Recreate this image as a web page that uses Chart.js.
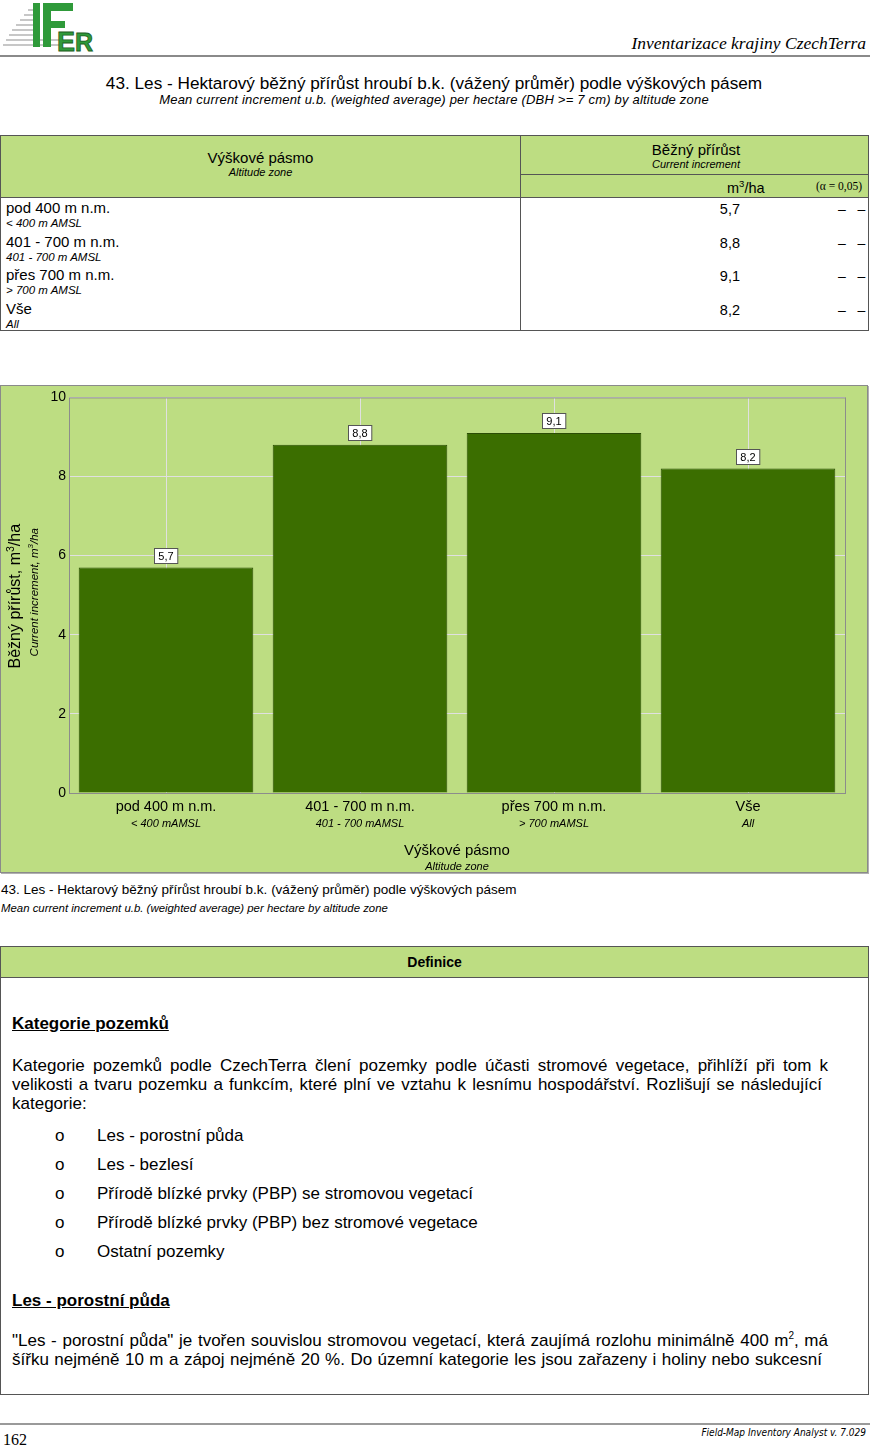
<!DOCTYPE html>
<html lang="cs">
<head>
<meta charset="utf-8">
<title>43. Les - Hektarový běžný přírůst</title>
<script src="https://cdn.jsdelivr.net/npm/chart.js@4/dist/chart.umd.min.js"></script>
<style>
  body { margin: 0; width: 870px; height: 1446px; position: relative; background: #fff;
         font-family: "Liberation Sans", Arial, sans-serif; color: #000; overflow: hidden; }
  .abs { position: absolute; white-space: nowrap; }
  .green { background: #bddd82; }
  .it { font-style: italic; }
  .c { text-align: center; }
  .r { text-align: right; }
  #tbl { left: 0; top: 135px; width: 867px; height: 194px; border: 1px solid #555; }
  #chartBox { left: 0; top: 385px; width: 866px; height: 486px; border: 1px solid #8a8a8a;
              box-shadow: 1px 1px 0 #b0b0b0; }
  #def { left: 0; top: 946px; width: 867px; height: 447px; border: 1px solid #555; }
  .bul { font-size: 17px; }
  .line { font-size: 17px; text-align: justify; text-align-last: justify; }
  h3 { margin: 0; font-size: 17px; font-weight: bold; text-decoration: underline; }
</style>
</head>
<body>

<!-- hlavička stránky -->
<svg class="abs" style="left:2px;top:1px" width="96" height="52" viewBox="0 0 96 52">
  <g stroke="#b5b5b5" stroke-width="1.5">
    <line x1="26" y1="9" x2="31" y2="9"/>
    <line x1="22" y1="14" x2="31" y2="14"/>
    <line x1="18" y1="19" x2="31" y2="19"/>
    <line x1="14" y1="24" x2="31" y2="24"/>
    <line x1="10" y1="29" x2="31" y2="29"/>
    <line x1="7" y1="34" x2="31" y2="34"/>
    <line x1="4" y1="39" x2="58" y2="39"/>
    <line x1="1" y1="44" x2="58" y2="44"/>
  </g>
  <rect x="31" y="2" width="7" height="44" fill="#2f9a3a"/>
  <rect x="41" y="2" width="8" height="44" fill="#2f9a3a"/>
  <rect x="41" y="2" width="30" height="8" fill="#2f9a3a"/>
  <rect x="41" y="20" width="22" height="7" fill="#2f9a3a"/>
  <text x="55" y="50" font-family="Liberation Sans" font-weight="bold" font-size="27" fill="#2f9a3a" stroke="#1d5e22" stroke-width="0.8">E</text>
  <text x="73" y="50" font-family="Liberation Sans" font-weight="bold" font-size="25" fill="#2f9a3a" stroke="#1d5e22" stroke-width="0.8">R</text>
</svg>
<div class="abs it" style="right:4px;top:33px;font-family:'Liberation Serif',serif;font-size:17.5px;">Inventarizace krajiny CzechTerra</div>
<div class="abs" style="left:0;top:55px;width:870px;height:2px;background:#8a8a8a"></div>

<div class="abs c" style="left:0;width:868px;top:73px;font-size:17.2px;">43. Les - Hektarový běžný přírůst hroubí b.k. (vážený průměr) podle výškových pásem</div>
<div class="abs c it" style="left:0;width:868px;top:92px;font-size:13px;letter-spacing:0.2px;">Mean current increment u.b. (weighted average) per hectare (DBH &gt;= 7 cm) by altitude zone</div>

<!-- tabulka -->
<div id="tbl" class="abs">
  <div class="abs green" style="left:0;top:0;width:867px;height:61px;border-bottom:1px solid #555"></div>
  <div class="abs" style="left:519px;top:0;width:1px;height:194px;background:#555"></div>
  <div class="abs" style="left:520px;top:38px;width:347px;height:1px;background:#555"></div>
  <div class="abs c" style="left:0;width:519px;top:13px;font-size:15px;">Výškové pásmo</div>
  <div class="abs c it" style="left:0;width:519px;top:30px;font-size:11px;">Altitude zone</div>
  <div class="abs c" style="left:520px;width:350px;top:5px;font-size:15px;">Běžný přírůst</div>
  <div class="abs c it" style="left:520px;width:350px;top:22px;font-size:11px;">Current increment</div>
  <div class="abs" style="left:726px;top:42px;font-size:14.5px;">m<sup style="font-size:9.5px">3</sup>/ha</div>
  <div class="abs r" style="right:6px;top:44px;font-size:11.5px;font-family:'Liberation Serif',serif;">(α = 0,05)</div>
  <div id="tblRows"></div>
</div>

<!-- graf -->
<div id="chartBox" class="abs green">
  <canvas id="incChart" width="866" height="486"></canvas>
</div>

<div class="abs" style="left:1px;top:882px;font-size:13.5px;">43. Les - Hektarový běžný přírůst hroubí b.k. (vážený průměr) podle výškových pásem</div>
<div class="abs it" style="left:1px;top:902px;font-size:11.4px;">Mean current increment u.b. (weighted average) per hectare by altitude zone</div>

<!-- definice -->
<div id="def" class="abs">
  <div class="abs green c" style="left:0;top:0;width:867px;height:30px;border-bottom:1px solid #555;font-size:14px;font-weight:bold;line-height:30px;">Definice</div>
  <div class="abs" style="left:11px;top:67px;"><h3>Kategorie pozemků</h3></div>
  <div class="abs line" style="left:11px;top:109px;width:816px;">Kategorie pozemků podle CzechTerra člení pozemky podle účasti stromové vegetace, přihlíží při tom k</div>
  <div class="abs line" style="left:11px;top:128px;width:810px;">velikosti a tvaru pozemku a funkcím, které plní ve vztahu k lesnímu hospodářství. Rozlišují se následující</div>
  <div class="abs" style="left:11px;top:147px;font-size:17px;">kategorie:</div>
  <div id="bullets"></div>
  <div class="abs" style="left:11px;top:344px;"><h3>Les - porostní půda</h3></div>
  <div class="abs line" style="left:11px;top:384px;width:816px;">"Les - porostní půda" je tvořen souvislou stromovou vegetací, která zaujímá rozlohu minimálně 400 m<sup style="font-size:10px;line-height:0">2</sup>, má</div>
  <div class="abs line" style="left:11px;top:403px;width:810px;">šířku nejméně 10 m a zápoj nejméně 20 %. Do územní kategorie les jsou zařazeny i holiny nebo sukcesní</div>
</div>

<!-- patička -->
<div class="abs" style="left:0;top:1423px;width:870px;height:2px;background:#9a9a9a"></div>
<div class="abs" style="left:3px;top:1431px;font-family:'Liberation Serif',serif;font-size:16px;">162</div>
<div class="abs it" style="right:4px;top:1427px;font-size:10px;font-family:'Liberation Sans Narrow','DejaVu Sans Condensed',sans-serif;">Field-Map Inventory Analyst v. 7.029</div>

<script>
// ==========================================
// 1. DATA
// ==========================================

const zones = ['pod 400 m n.m.', '401 - 700 m n.m.', 'přes 700 m n.m.', 'Vše'];
const zonesEn = ['< 400 mAMSL', '401 - 700 mAMSL', '> 700 mAMSL', 'All'];
const zonesEnTable = ['< 400 m AMSL', '401 - 700 m AMSL', '> 700 m AMSL', 'All'];
const increment = [5.7, 8.8, 9.1, 8.2];
const yMin = 0;
const yMax = 10;
const yStep = 2;

const bulletItems = [
    'Les - porostní půda',
    'Les - bezlesí',
    'Přírodě blízké prvky (PBP) se stromovou vegetací',
    'Přírodě blízké prvky (PBP) bez stromové vegetace',
    'Ostatní pozemky'
];

// desetinná čárka
function fmt(v) {
    return v.toFixed(1).replace('.', ',');
}

// ==========================================
// 2. TABULKA A ODRÁŽKY
// ==========================================

function buildTable() {
    const rows = document.getElementById('tblRows');
    zones.forEach((z, i) => {
        const top = 62 + i * 33.5;
        rows.insertAdjacentHTML('beforeend', `
            <div class="abs" style="left:5px;top:${top + 1}px;font-size:15px;">${z}</div>
            <div class="abs it" style="left:5px;top:${top + 19}px;font-size:11.5px;">${zonesEnTable[i].replace('<', '&lt;').replace('>', '&gt;')}</div>
            <div class="abs r" style="left:640px;width:99px;top:${top + 3}px;font-size:14.5px;">${fmt(increment[i])}</div>
            <div class="abs" style="left:837px;top:${top + 3}px;font-size:14px;">–&nbsp;&nbsp;&nbsp;–</div>
        `);
    });
}

function buildBullets() {
    const box = document.getElementById('bullets');
    bulletItems.forEach((t, i) => {
        const top = 179 + i * 29;
        box.insertAdjacentHTML('beforeend', `
            <div class="abs bul" style="left:54px;top:${top}px;">o</div>
            <div class="abs bul" style="left:96px;top:${top}px;">${t}</div>
        `);
    });
}

// ==========================================
// 3. GRAF (CHART.JS)
// ==========================================

const FONT = "'Liberation Sans', Arial, sans-serif";

// rámeček plochy grafu, popisky hodnot, anglické podpisy a názvy os
const extrasPlugin = {
    id: 'extras',
    afterDraw(chart) {
        const ctx = chart.ctx;
        const area = chart.chartArea;
        const xs = chart.scales.x;

        ctx.save();
        ctx.strokeStyle = '#8c8c8c';
        ctx.lineWidth = 1;
        ctx.strokeRect(area.left + 0.5, area.top + 0.5, area.right - area.left, area.bottom - area.top);

        // popisky hodnot v rámečku
        const meta = chart.getDatasetMeta(0);
        ctx.font = '11px ' + FONT;
        ctx.textAlign = 'center';
        ctx.textBaseline = 'middle';
        meta.data.forEach((bar, i) => {
            const txt = fmt(increment[i]);
            const w = ctx.measureText(txt).width + 8;
            const h = 15;
            const bx = Math.round(bar.x - w / 2) + 0.5;
            const by = Math.round(bar.y - 5 - h) + 0.5;
            ctx.fillStyle = '#fff';
            ctx.fillRect(bx, by, w, h);
            ctx.strokeStyle = '#555';
            ctx.strokeRect(bx, by, w, h);
            ctx.fillStyle = '#000';
            ctx.fillText(txt, bar.x, by + h / 2 + 0.5);
        });

        // anglické podpisy kategorií
        ctx.font = 'italic 11px ' + FONT;
        zonesEn.forEach((t, i) => {
            ctx.fillText(t, xs.getPixelForValue(i), area.bottom + 31);
        });

        // název osy x
        const midX = (area.left + area.right) / 2;
        ctx.font = '15px ' + FONT;
        ctx.fillText('Výškové pásmo', midX, area.bottom + 58);
        ctx.font = 'italic 11px ' + FONT;
        ctx.fillText('Altitude zone', midX, area.bottom + 74);

        // název osy y
        const midY = (area.top + area.bottom) / 2 + 1;
        ctx.translate(15, midY);
        ctx.rotate(-Math.PI / 2);
        ctx.font = '16px ' + FONT;
        const t1 = 'Běžný přírůst, m';
        const w1 = ctx.measureText(t1).width;
        const wHa = ctx.measureText('/ha').width;
        ctx.font = '10.5px ' + FONT;
        const w3 = ctx.measureText('3').width;
        const total = w1 + w3 + wHa;
        ctx.textAlign = 'left';
        ctx.font = '16px ' + FONT;
        ctx.fillText(t1, -total / 2, 0);
        ctx.font = '10.5px ' + FONT;
        ctx.fillText('3', -total / 2 + w1, -5);
        ctx.font = '16px ' + FONT;
        ctx.fillText('/ha', -total / 2 + w1 + w3, 0);

        ctx.font = 'italic 11.5px ' + FONT;
        const e1 = 'Current increment, m';
        const ew1 = ctx.measureText(e1).width;
        const ewHa = ctx.measureText('/ha').width;
        ctx.font = 'italic 8px ' + FONT;
        const ew3 = ctx.measureText('3').width;
        const etotal = ew1 + ew3 + ewHa;
        const ex = -etotal / 2 + 4;
        ctx.font = 'italic 11.5px ' + FONT;
        ctx.fillText(e1, ex, 19);
        ctx.font = 'italic 8px ' + FONT;
        ctx.fillText('3', ex + ew1, 15);
        ctx.font = 'italic 11.5px ' + FONT;
        ctx.fillText('/ha', ex + ew1 + ew3, 19);
        ctx.restore();
    }
};

function renderChart() {
    const canvas = document.getElementById('incChart');
    new Chart(canvas.getContext('2d'), {
        type: 'bar',
        data: {
            labels: zones,
            datasets: [{
                data: increment,
                backgroundColor: '#3b6e00',
                borderColor: '#2b4d05',
                borderWidth: 1,
                categoryPercentage: 0.9,
                barPercentage: 1.0
            }]
        },
        options: {
            responsive: false,
            animation: false,
            events: [],
            layout: { padding: { top: 11, right: 22, left: 0, bottom: 0 } },
            plugins: {
                legend: { display: false },
                tooltip: { enabled: false }
            },
            scales: {
                x: {
                    grid: { color: '#e0e0e0', offset: false, drawTicks: false },
                    border: { display: false },
                    ticks: { color: '#000', font: { family: FONT, size: 14.5 }, padding: 5, maxRotation: 0 },
                    afterFit(scale) { scale.height = 79; }
                },
                y: {
                    min: yMin,
                    max: yMax,
                    grid: { color: '#e0e0e0', drawTicks: false },
                    border: { display: false },
                    ticks: { stepSize: yStep, color: '#000', font: { family: FONT, size: 14 }, padding: 3 },
                    afterFit(scale) { scale.width = 68; }
                }
            }
        },
        plugins: [extrasPlugin]
    });
}

document.addEventListener('DOMContentLoaded', () => {
    buildTable();
    buildBullets();
    renderChart();
});
</script>
</body>
</html>
